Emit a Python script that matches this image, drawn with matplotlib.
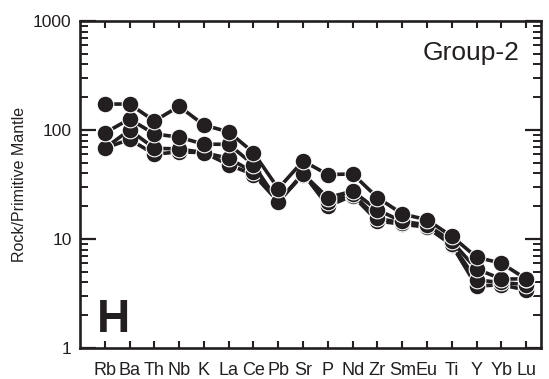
import matplotlib
matplotlib.use('Agg')
import matplotlib.pyplot as plt
from matplotlib.ticker import LogLocator, NullFormatter, FixedLocator

plt.rcParams['font.family'] = ['Liberation Sans', 'DejaVu Sans']

# --- DATA ---
elements = ['Rb', 'Ba', 'Th', 'Nb', 'K', 'La', 'Ce', 'Pb', 'Sr', 'P',
            'Nd', 'Zr', 'Sm', 'Eu', 'Ti', 'Y', 'Yb', 'Lu']

sample_1 = [173, 173, 121, 165, 111, 96, 62, 29, 52, 39, 39.5, 24, 17, 15, 10.6, 6.8, 6.0, 4.3]
sample_2 = [94, 126, 92, 86, 74, 74, 48, 22, 39.5, 24, 27.5, 18.5, 14.5, 13.5, 9.5, 5.3, 4.3, 4.3]
sample_3 = [68, 100, 68, 67, 62, 55, 41, 22, 39, 22, 26, 15.5, 14, 13, 9, 4.2, 4.0, 3.8]
sample_4 = [68, 82, 60, 63, 62, 48, 39, 22, 40, 20, 25, 14.6, 13.7, 12.8, 8.8, 3.7, 3.8, 3.4]

samples = [sample_4, sample_3, sample_2, sample_1]

INK = '#231f20'

fig = plt.figure(figsize=(5.49, 3.79), dpi=100)
ax = fig.add_axes([80 / 549, 1 - 348 / 379, 461 / 549, 327 / 379])

x = list(range(len(elements)))
for s in samples:
    ax.plot(x, s, '-', color=INK, linewidth=2.6, marker='o',
            markersize=12, markerfacecolor=INK,
            markeredgecolor='white', markeredgewidth=0.8)

ax.set_yscale('log')
ax.set_ylim(1, 1000)
ax.set_xlim(-1, 17.6)

ax.xaxis.set_major_locator(FixedLocator(x))
ax.set_xticklabels(elements, fontsize=13)
ax.yaxis.set_minor_locator(LogLocator(base=10, subs=range(2, 10), numticks=20))
ax.yaxis.set_minor_formatter(NullFormatter())
ax.set_yticks([1, 10, 100, 1000])
ax.set_yticklabels(['1', '10', '100', '1000'], fontsize=12.5)

ax.tick_params(axis='x', which='both', direction='in', top=True, bottom=True,
               length=5, width=1.5, pad=10, color=INK, labelcolor=INK)
ax.tick_params(axis='y', which='major', direction='in', left=True, right=True,
               length=11.5, width=1.6, pad=6, color=INK, labelcolor=INK)
ax.tick_params(axis='y', which='minor', direction='in', left=True, right=True,
               length=6, width=1.4, color=INK)

for sp in ax.spines.values():
    sp.set_linewidth(1.9)
    sp.set_color(INK)

ax.set_ylabel('Rock/Primitive Mantle', fontsize=11.5, labelpad=4, color=INK)

ax.text(0.954, 0.881, 'Group-2', transform=ax.transAxes, ha='right', va='baseline',
        fontsize=19, color=INK)
ax.text(0.037, 0.049, 'H', transform=ax.transAxes, ha='left', va='baseline',
        fontsize=33, fontweight='bold', color=INK)

fig.savefig('out.png', dpi=100)
